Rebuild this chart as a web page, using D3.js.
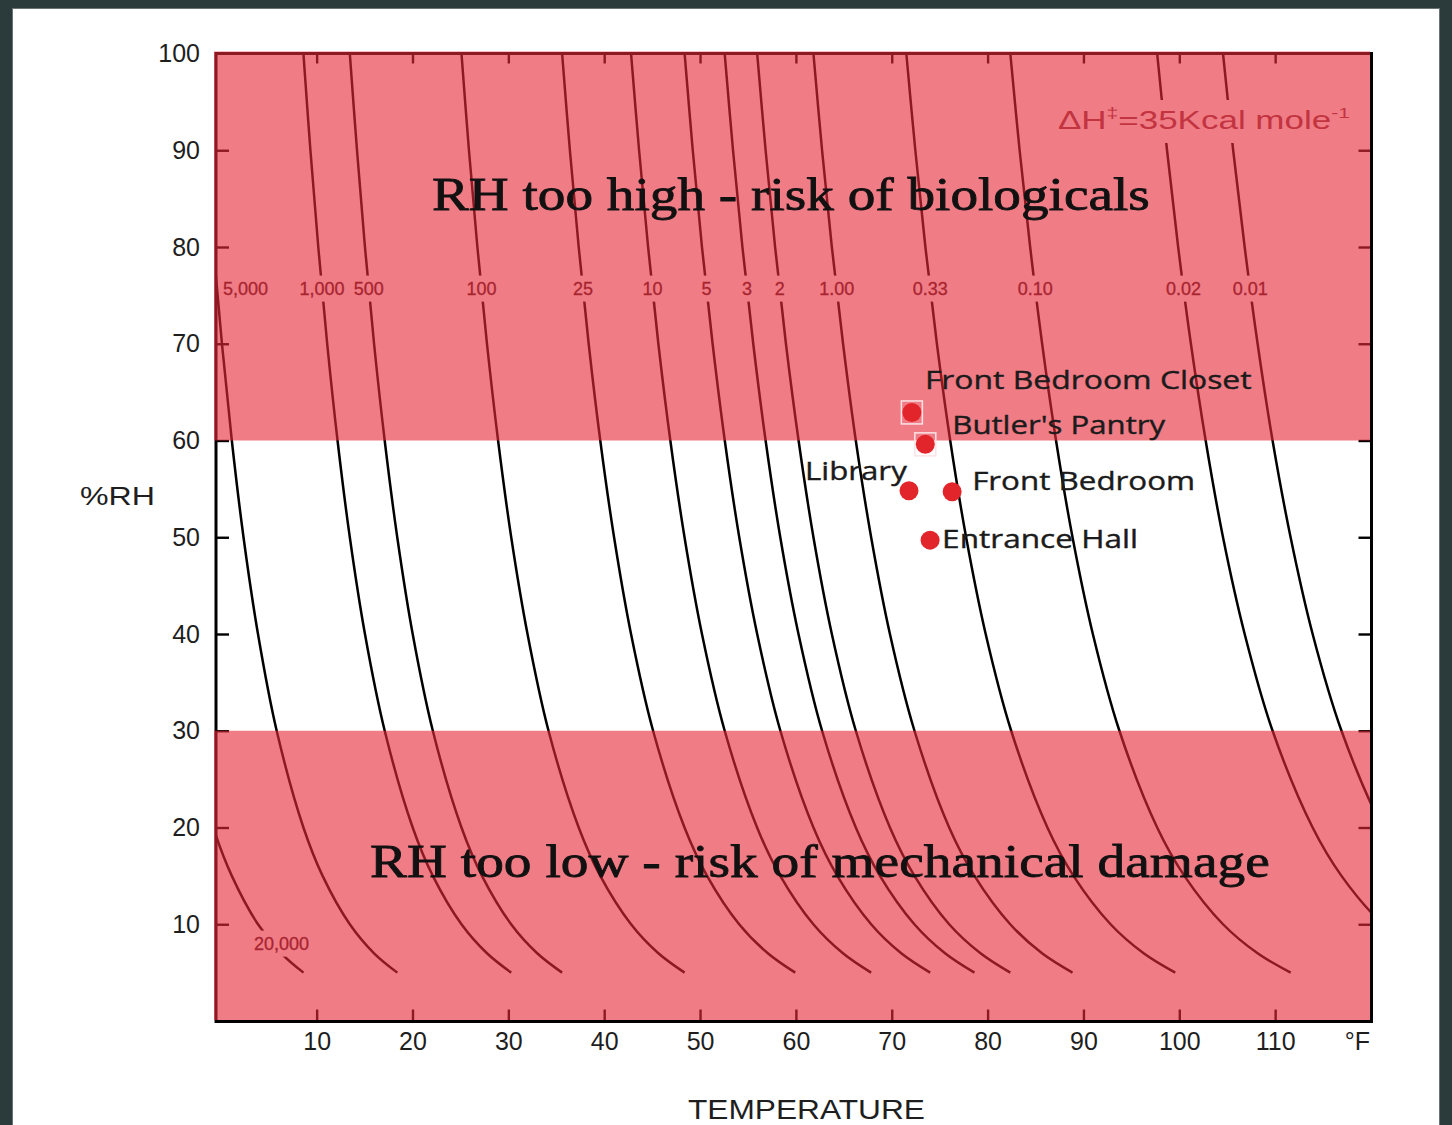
<!DOCTYPE html>
<html><head><meta charset="utf-8">
<script src="https://cdn.jsdelivr.net/npm/d3@7"></script>
<style>
html,body{margin:0;padding:0;background:#2b3a3b;}
svg{display:block;}
</style></head><body>
<svg id="chart" width="1452" height="1125"></svg>
<script>
// ---------- DATA ----------
const rhLevels = [100, 90, 80, 70, 60, 50, 40, 30, 20, 15, 10, 7, 5];
const isopermLabels = ["20,000","5,000","1,000","500","100","25","10","5","3","2","1.00","0.33","0.10","0.02","0.01"];
// temperature (°F) of each isoperm at the RH levels above
const isoperm20000 = [null,null,null,null,null,null,null,-3.44,-0.78,1.15,3.88,6.31,8.63];
const isoperm5000  = [-2.25,-1.56,-0.78,0.12,1.15,2.37,3.88,5.83,8.62,10.62,13.46,15.99,18.42];
const isoperm1000  = [8.62,9.35,10.17,11.10,12.18,13.46,15.04,17.10,20.02,22.12,25.11,27.77,30.30];
const isoperm500   = [13.46,14.21,15.04,15.99,17.10,18.41,20.02,22.12,25.11,27.25,30.29,33.01,35.61];
const isoperm100   = [25.11,25.89,26.77,27.77,28.93,30.30,32.00,34.19,37.34,39.59,42.80,45.65,48.39];
const isoperm25    = [35.61,36.42,37.34,38.38,39.59,41.03,42.80,45.10,48.38,50.73,54.08,57.07,59.93];
const isoperm10    = [42.80,43.64,44.58,45.65,46.90,48.38,50.20,52.57,55.95,58.37,61.82,64.91,67.85];
const isoperm5     = [48.39,49.24,50.20,51.31,52.58,54.09,55.96,58.38,61.83,64.32,67.85,70.99,74.01];
const isoperm3     = [52.57,53.44,54.42,55.55,56.84,58.37,60.27,62.73,66.25,68.77,72.36,75.56,78.63];
const isoperm2     = [55.96,56.84,57.83,58.96,60.28,61.83,63.75,66.25,69.81,72.37,75.99,79.26,82.37];
const isoperm1     = [61.83,62.73,63.75,64.92,66.25,67.85,69.81,72.37,75.99,78.63,82.36,85.68,88.86];
const isoperm033   = [71.52,72.46,73.51,74.71,76.10,77.76,79.80,82.46,86.24,88.96,92.83,96.28,99.58];
const isoperm010   = [82.37,83.34,84.44,85.69,87.14,88.86,90.98,93.75,97.69,100.53,104.56,108.17,111.62];
const isoperm002   = [97.69,98.72,99.88,101.21,102.75,104.56,106.82,109.73,113.91,116.92,121.20,125.02,128.68];
const isoperm001   = [104.56,105.62,106.82,108.17,109.73,111.61,113.91,116.92,121.20,124.28,128.67,132.6,136.4];
const isopermTemps = [isoperm20000,isoperm5000,isoperm1000,isoperm500,isoperm100,isoperm25,isoperm10,
                      isoperm5,isoperm3,isoperm2,isoperm1,isoperm033,isoperm010,isoperm002,isoperm001];

const zoneLabels = ["RH too high - risk of biologicals", "RH too low - risk of mechanical damage"];
const zoneLow  = [60, 0];
const zoneHigh = [100, 30];

const roomNames = ["Front Bedroom Closet", "Butler's Pantry", "Library", "Front Bedroom", "Entrance Hall"];
const roomTemp  = [72.1, 73.5, 71.8, 76.3, 74.0];
const roomRH    = [62.9, 59.6, 54.8, 54.7, 49.7];

const xTickValues = [10, 20, 30, 40, 50, 60, 70, 80, 90, 100, 110];
const yTickValues = [10, 20, 30, 40, 50, 60, 70, 80, 90, 100];

// ---------- LAYOUT ----------
const PL = 216, PR = 1371.5, PT = 53.5, PB = 1021.5;
const svg = d3.select("#chart");
const x = d3.scaleLinear().domain([-0.5, 120]).range([216, 1371]);
const y = d3.scaleLinear().domain([0, 100]).range([1021, 53.5]);
const SANS = "'Liberation Sans', Arial, Helvetica, sans-serif";

// page panel
svg.append("rect").attr("x", 12.5).attr("y", 8.5).attr("width", 1427).attr("height", 1130)
  .attr("fill", "#fff").attr("stroke", "#6b7474").attr("stroke-width", 1);

svg.append("defs").append("clipPath").attr("id", "plotclip")
  .append("rect").attr("x", PL).attr("y", PT).attr("width", PR - PL).attr("height", PB - PT);

// ---------- isoperm curves ----------
const line = d3.line().x(d => x(d[0])).y(d => y(d[1])).curve(d3.curveCatmullRom.alpha(0.5));
const curvesG = svg.append("g").attr("clip-path", "url(#plotclip)");
isopermTemps.forEach((row, i) => {
  const pts = rhLevels.map((rh, j) => [row[j], rh]).filter(p => p[0] != null);
  curvesG.append("path").attr("d", line(pts)).attr("fill", "none")
    .attr("stroke", "#000").attr("stroke-width", 2.5);
});

// label positions on curves
function tempAt(row, rh) {
  for (let j = 0; j < rhLevels.length - 1; j++) {
    const a = rhLevels[j], b = rhLevels[j + 1];
    if (rh <= a && rh >= b && row[j] != null && row[j + 1] != null) {
      return row[j] + (a - rh) / (a - b) * (row[j + 1] - row[j]);
    }
  }
  return null;
}
const labelRH = 75.7;
const curveLabelG = svg.append("g");
const knockG = svg.append("g");
const labelInfo = isopermLabels.map((lab, i) => {
  let cx, cy, anchor = "middle";
  if (lab === "20,000") {
    cx = x(tempAt(isopermTemps[i], 8)) + 8; cy = y(8);
  } else if (lab === "5,000") {
    cx = PL + 7; cy = y(labelRH); anchor = "start";
  } else {
    cx = x(tempAt(isopermTemps[i], labelRH)); cy = y(labelRH);
  }
  return {lab, cx, cy, anchor};
});

// axes (under the overlay)
const axG = svg.append("g");
const bottomAxis = d3.axisBottom(x).tickValues(xTickValues).tickSizeInner(-12).tickSizeOuter(0).tickPadding(11);
const topAxis = d3.axisTop(x).tickValues(xTickValues).tickSizeInner(-10).tickSizeOuter(0).tickFormat("");
const leftAxis = d3.axisLeft(y).tickValues(yTickValues).tickSizeInner(-13).tickSizeOuter(0).tickPadding(16);
const rightAxis = d3.axisRight(y).tickValues(yTickValues.slice(0, 9)).tickSizeInner(-13).tickSizeOuter(0).tickFormat("");
const gb = axG.append("g").attr("transform", `translate(0,${PB})`).call(bottomAxis);
const gt = axG.append("g").attr("transform", `translate(0,${PT})`).call(topAxis);
const gl = axG.append("g").attr("transform", `translate(${PL},0)`).call(leftAxis);
const gr = axG.append("g").attr("transform", `translate(${PR},0)`).call(rightAxis);
[gb, gt, gl, gr].forEach(g => {
  g.select(".domain").remove();
  g.selectAll(".tick line").attr("stroke", "#000").attr("stroke-width", 2.4);
  g.selectAll(".tick text").attr("font-family", SANS).attr("font-size", 25).attr("fill", "#1e1e1e");
});
gl.selectAll(".tick").filter(d => d === 100).select("line").remove();
axG.append("rect").attr("x", PL).attr("y", PT).attr("width", PR - PL).attr("height", PB - PT)
  .attr("fill", "none").attr("stroke", "#000").attr("stroke-width", 3);
axG.append("text").attr("x", 1370).attr("y", PB + 11).attr("dy", "0.71em").attr("text-anchor", "end")
  .attr("font-family", SANS).attr("font-size", 25).attr("fill", "#1e1e1e").text("°F");

// ---------- text helper ----------
function fitText(parent, str, xLeft, baseline, width, attrs) {
  const t = parent.append("text").attr("x", 0).attr("y", 0).text(str);
  Object.entries(attrs).forEach(([k, v]) => t.attr(k, v));
  const bb = t.node().getBBox();
  const s = width / bb.width;
  t.attr("transform", `translate(${xLeft - bb.x * s},${baseline}) scale(${s},1)`);
  return t;
}

// curve labels: knock-out boxes (under overlay) and text (over overlay)
labelInfo.forEach(d => {
  const t = curveLabelG.append("text").text(d.lab).attr("font-family", SANS).attr("font-size", 18)
    .attr("fill", "#a8242f").attr("stroke", "#a8242f").attr("stroke-width", 0.3)
    .attr("text-anchor", d.anchor).attr("x", d.cx).attr("y", d.cy + 6.5);
  const bb = t.node().getBBox();
  knockG.append("rect").attr("x", bb.x - 3).attr("y", d.cy - 13).attr("width", bb.width + 6).attr("height", 26)
    .attr("fill", "#fff");
});
// knock-out behind the ΔH annotation
knockG.append("rect").attr("x", 1052).attr("y", 100).attr("width", 300).attr("height", 43).attr("fill", "#fff");

// ---------- overlay bands ----------
const bandG = svg.append("g");
zoneLow.forEach((lo, i) => {
  const top = y(zoneHigh[i]) - (zoneHigh[i] === 100 ? 2 : 0);
  const bot = lo === 0 ? PB - 1.5 : y(lo);
  bandG.append("rect").attr("x", 214).attr("y", top).attr("width", 1370 - 214).attr("height", bot - top)
    .attr("fill", "rgb(230,41,57)").attr("fill-opacity", 0.61);
});
curveLabelG.raise();

// ΔH annotation
const dh = svg.append("text").attr("font-family", SANS).attr("font-size", 25).attr("fill", "#c2343f")
  .attr("x", 0).attr("y", 0);
dh.append("tspan").text("ΔH");
dh.append("tspan").attr("font-size", 15).attr("dy", -11).text("‡");
dh.append("tspan").attr("font-size", 25).attr("dy", 11).text("=35Kcal mole");
dh.append("tspan").attr("font-size", 15).attr("dy", -11).text("-1");
{
  const bb = dh.node().getBBox();
  const s = 292 / bb.width;
  dh.attr("transform", `translate(${1058 - bb.x * s},129) scale(${s},1)`);
}

// ---------- zone texts ----------
const serifAttrs = {"font-family": "'Liberation Serif', 'Times New Roman', serif", "font-size": 47,
  "fill": "#111", "stroke": "#111", "stroke-width": 0.8};
fitText(svg, zoneLabels[0], 432, 210, 718, serifAttrs);
fitText(svg, zoneLabels[1], 370, 877, 900, serifAttrs);

// axis titles
fitText(svg, "%RH", 80, 505, 75, {"font-family": SANS, "font-size": 25, "fill": "#1e1e1e"});
fitText(svg, "TEMPERATURE", 688, 1119, 237, {"font-family": SANS, "font-size": 27, "fill": "#1e1e1e"});

// ---------- rooms ----------
const roomG = svg.append("g");
[0, 1].forEach(i => {
  roomG.append("rect").attr("x", x(roomTemp[i]) - 10.5).attr("y", y(roomRH[i]) - 11.5)
    .attr("width", 21).attr("height", 23).attr("fill", "none")
    .attr("stroke", "#fbe3e5").attr("stroke-width", 1.5);
});
roomG.selectAll("circle").data(roomNames).join("circle")
  .attr("cx", (d, i) => x(roomTemp[i])).attr("cy", (d, i) => y(roomRH[i]))
  .attr("r", 9.5).attr("fill", "#e2252b");

const labelOffsets = [[13, -23], [27, -10], [-104, -11], [20, -2], [12, 8]];
const labelWidths = [327, 214, 103, 223, 196];
const roomAttrs = {"font-family": "'Open Sans', 'Noto Sans', sans-serif", "font-size": 26, "fill": "#1b1b1b",
  "stroke": "#1b1b1b", "stroke-width": 0.4};
roomNames.forEach((name, i) => {
  fitText(svg, name, x(roomTemp[i]) + labelOffsets[i][0], y(roomRH[i]) + labelOffsets[i][1], labelWidths[i], roomAttrs);
});
</script>
</body></html>
